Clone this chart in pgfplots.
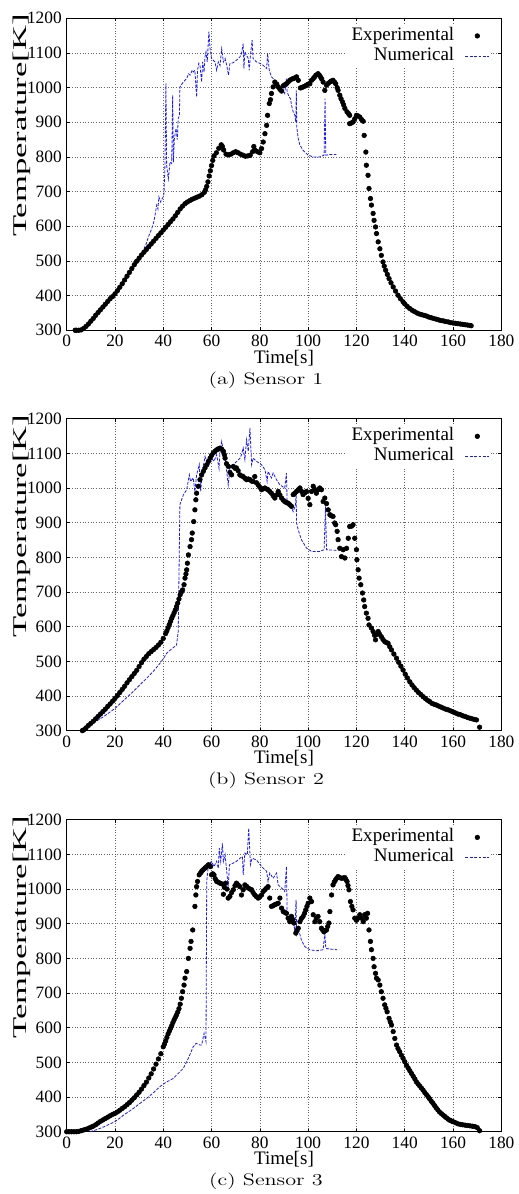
\documentclass[border=0pt]{standalone}
\usepackage{fontspec}
\usepackage{graphicx}
\usepackage{pgfplots}
\pgfplotsset{compat=1.18}
\newfontfamily\tms{Liberation Serif}
\definecolor{numblue}{rgb}{0.1,0.1,1}
\pgfplotsset{
  sensor/.style={
    scale only axis, width=326pt, height=234pt, anchor=south west,
    xmin=0, xmax=180, ymin=300, ymax=1200,
    xtick distance=20, ytick distance=100,
    tick align=inside, xtick pos=both, ytick pos=both,
    major tick length=2.3pt,
    tick style={black, line width=0.5pt},
    axis line style={black, line width=0.8pt},
    grid=major,
    major grid style={black!60, line width=0.5pt, dash pattern=on 0.6pt off 1.4pt},
    /pgf/number format/assume math mode=true,
    /pgf/number format/1000 sep={},
    xticklabel={\pgfmathprintnumber{\tick}},
    yticklabel={\pgfmathprintnumber{\tick}},
    tick label style={font=\tms\fontsize{13}{15}\selectfont},
    xticklabel style={inner ysep=1pt, yshift=-2.5pt},
    yticklabel style={inner sep=3.5pt},
    xlabel={Time[s]},
    xlabel style={font=\tms\fontsize{14.3}{16}\selectfont, at={(axis description cs:0.5,-0.063)}, anchor=north, inner sep=0pt},
    ylabel={\scalebox{1}[0.56]{Temperature[K]}},
    ylabel style={font=\tms\fontsize{26}{28}\selectfont, at={(axis description cs:-0.1035,0.656)}, anchor=center, rotate=0},
    clip=false,
    legend plot pos=right,
    legend cell align=right,
    legend style={at={(axis description cs:0.977,0.9795)}, anchor=north east,
      draw=none, fill=white, inner sep=1pt, row sep=0.5pt, column sep=4pt,
      font=\tms\fontsize{14.3}{16}\selectfont,
      nodes={inner xsep=4pt, inner ysep=0pt, text height=10.5pt, text depth=4pt}},
  },
  exp/.style={only marks, mark=*, mark size=1.75pt, black,
    legend image code/.code={\draw[mark repeat=2,mark phase=2,##1] plot coordinates {(0pt,0pt) (9pt,0pt) (18pt,0pt)};}},
  num/.style={numblue, line width=0.6pt, dash pattern=on 2.2pt off 1.1pt, mark=none,
    legend image code/.code={\draw[##1] (0pt,0pt) -- (18pt,0pt);}},
}
\begin{document}
\begin{tikzpicture}
\path[use as bounding box] (0,0) rectangle (388.5pt,895.5pt);

% ---------------- Sensor 1 ----------------
\begin{axis}[sensor, at={(50pt,647.8pt)},
  extra description/.code={\node[font=\fontsize{12.5}{15}\selectfont] at (0.4585,-0.16) {\scalebox{1.33}[1]{(a) Sensor 1}};}]
\addplot[exp] coordinates {
(3.5,300) (4,300) (5,300) (6,301) (7,305) (8,311) (9,318) (10,326) (11,334) (12,343)
(13,351) (14,359) (15,367) (16,375) (17,383) (18,391) (19,397) (20,405) (21,414) (22,424)
(23,434) (24,445) (25,456) (26,467) (27,478) (28,489) (29,499) (30,508) (31,517) (32,525)
(33,533) (34,541) (35,549) (36,557) (37,565) (38,573) (39,581) (40,589) (41,597) (42,605)
(43,613) (44,621) (45,630) (46,640) (47,650) (48,658) (49,665) (50,670) (51,674) (52,678)
(53,681) (54,684) (55,687) (56,691) (57,698) (57.5,705) (58,715) (58.5,728) (59,745) (59.5,760)
(60,775) (60.5,790) (61,803) (62,812) (63,825) (64,835) (64.5,830) (65,820) (66,808) (67,806)
(68,808) (69,812) (70,815) (71,812) (72,808) (73,805) (74,802) (75,803) (76,805) (77,815)
(77.5,830) (78,820) (79,815) (80,812) (80.7,824) (81.4,843) (82.1,867) (82.8,891) (83.2,920) (83.9,954)
(84.4,965) (84.8,983) (85.5,1002) (86.2,1016) (87,1010) (87.6,1002) (88.3,995) (89,990) (89.7,1005) (90.3,1008)
(91,1011) (91.7,1016) (92.4,1021) (93.1,1024) (93.8,1026) (94.5,1028) (95.2,1031) (95.9,1021) (96.8,999) (97.3,1000)
(97.9,1002) (98.6,1004) (99.3,1007) (100,1010) (100.7,1011) (101.4,1021) (102.1,1026) (102.6,1030) (103.2,1036) (104.1,1040)
(104.6,1036) (105.1,1031) (105.6,1025) (106.2,1016) (106.9,992) (107.6,1007) (108.3,1012) (109,1016) (109.6,1019) (110.3,1021)
(110.9,1016) (111.4,1011) (112,1000) (112.4,992) (113.1,978) (113.6,968) (114.2,959) (114.7,950) (115.2,940) (116.1,930)
(116.7,925) (117.2,920) (117.2,896) (117.9,898) (118.6,901) (119.3,910) (120,920) (120.7,918) (121.4,915) (122.1,908)
(122.8,903) (123.2,862) (123.9,814) (124.1,776) (124.8,747) (125.2,709) (125.8,680) (126.2,661) (126.9,637) (127.3,617)
(127.9,598) (128.3,579) (129,555) (129.7,535) (130.3,516) (131,497) (131.5,485) (132.1,473) (132.8,461) (133.5,449)
(134.3,437) (135.2,425) (136.2,413) (137.2,401) (138.2,391) (139.3,382) (140,376) (141,369) (142,363) (143,358)
(144,354) (145,350) (146,347) (147,345) (148,343) (149,341) (150,338) (151,336) (152,334) (153,332)
(154,330) (155,328) (156,327) (157,325) (158,324) (159,322) (160,321) (161,320) (162,319) (163,318)
(164,317) (165,316) (166,315) (167,314) (167.5,313)
};
\addlegendentry{Experimental}
\addplot[num] coordinates {
(5,300) (6,301) (8,311) (10,327) (12,344) (15,368) (18,392) (20,407) (22,426) (25,458)
(28,492) (30,512) (31,520) (32,535) (33,550) (33.8,569) (34.5,580) (35.2,593) (36,610) (36.6,632)
(37.3,661) (37.8,650) (38.2,685) (38.9,670) (39.4,678) (39.8,682) (40.3,694) (40.7,776) (41.1,1012) (41.4,776)
(42.1,737) (42.8,785) (43.5,781) (43.9,978) (44.2,785) (44.6,853) (45,870) (45.3,882) (45.8,850) (46.2,911)
(46.7,920) (46.9,1002) (48.3,1016) (49.7,1026) (50.5,1040) (51.1,1036) (52,1050) (52.4,1045) (53.1,1050) (53.8,973)
(54.2,1050) (54.7,1070) (55.2,1064) (55.9,1016) (56.3,1074) (56.9,1045) (57.3,1090) (57.7,1103) (58.2,1074) (58.9,1161)
(59.4,1112) (60,1084) (61.4,1074) (62.1,1050) (62.8,1074) (63.5,1064) (64.2,1112) (64.9,1074) (65.6,1084) (66.3,1064)
(67,1036) (67.6,1069) (69,1072) (70.3,1079) (71.7,1088) (72.4,1098) (73.1,1127) (73.4,1055) (73.8,1103) (74.5,1093)
(75.2,1084) (75.6,1050) (76.1,1093) (76.8,1137) (77.2,1084) (78.6,1074) (80,1070) (81.4,1064) (82.8,1055) (83.2,1098)
(83.9,1050) (84.8,1031) (85.5,1026) (86.2,1002) (86.9,1011) (88.3,1002) (89.7,992) (90.3,983) (91,1026) (91.3,988)
(92.1,973) (92.7,968) (93.1,949) (93.8,930) (94.5,920) (94.9,900) (95.1,992) (95.3,885) (95.9,853) (96.6,834)
(97.9,819) (100,805) (102.1,800) (104.8,800) (106.6,805) (107,968) (107.3,805) (109,807) (111.7,807)
};
\addlegendentry{Numerical}
\end{axis}

% ---------------- Sensor 2 ----------------
\begin{axis}[sensor, at={(50pt,347.5pt)},
  extra description/.code={\node[font=\fontsize{12.5}{15}\selectfont] at (0.4585,-0.16) {\scalebox{1.33}[1]{(b) Sensor 2}};}]
\addplot[exp] coordinates {
(6.5,300) (7,302) (8,308) (9,315) (10,321) (11,327) (12,334) (13,341) (14,348) (15,355)
(16,362) (17,370) (18,377) (19,385) (20,393) (21,401) (22,410) (23,419) (24,428) (25,438)
(26,447) (27,456) (28,465) (29,474) (30,485) (31,496) (32,506) (33,514) (34,522) (35,528)
(36,534) (37,540) (38,547) (39,555) (40,566) (41,580) (41.5,588) (42,597) (42.5,606) (43,615)
(43.5,624) (44,632) (44.5,640) (45,648) (45.5,658) (46,668) (46.5,680) (47,692) (47.5,700) (48,706)
(48.6,721) (49,740) (49.4,752) (49.7,764) (50,783) (50.4,807) (51.1,831) (51.7,851) (52,870) (52.6,903)
(53.1,937) (53.5,966) (53.8,985) (54.5,1005) (55.2,1024) (55.9,1038) (56.6,1048) (57.3,1058) (58,1067) (58.7,1077)
(59.4,1086) (60,1094) (60.7,1101) (61.4,1106) (62.1,1110) (62.8,1113) (63.5,1115) (64.2,1112) (64.9,1106) (65.3,1096)
(65.6,1086) (66.2,1070) (67,1062) (67.6,1045) (68.3,1038) (69,1062) (69.7,1057) (70.3,1058) (71,1050) (71.7,1038)
(72.4,1035) (73.1,1033) (73.8,1028) (74.5,1024) (75.2,1026) (75.9,1024) (76.6,1020) (77.2,1019) (77.9,1033) (78.6,1015)
(79.3,1009) (80,1002) (80.7,995) (81.4,998) (82.1,1000) (82.8,997) (83.4,995) (84.1,990) (84.8,985) (85.5,978)
(86.2,971) (86.9,980) (87.6,990) (88.3,980) (89,971) (89.7,965) (90.3,961) (91,958) (91.7,956) (92.4,952)
(93.1,947) (93.8,981) (94.5,985) (95.2,990) (95.9,995) (96.6,1000) (97.3,990) (97.9,981) (98.6,986) (99.3,990)
(100,970) (100.7,952) (101.4,990) (102.1,1005) (102.8,995) (103.4,985) (104.1,995) (104.8,1000) (105.5,995) (106.2,961)
(106.9,971) (107.6,955) (108.3,937) (109,923) (109.6,920) (110.3,918) (111,899) (111.4,894) (112,875) (112.4,851)
(113.1,826) (113.8,802) (114.5,822) (115.2,798) (115.9,826) (116.6,855) (117.2,889) (118,890) (118.6,894) (119.3,855)
(120,822) (120.2,793) (120.7,764) (121.1,740) (121.8,721) (122.5,697) (123,677) (123.4,658) (124.1,639) (124.8,624)
(125.2,605) (126.2,596) (126.9,586) (127.5,575) (127.9,562) (128.5,578) (129,586) (129.6,578) (130.3,571) (131,563)
(131.7,557) (132.4,554) (133.1,552) (133.8,542) (134.5,533) (135.5,521) (136.6,509) (137.5,497) (138.4,486) (139.3,475)
(140.2,463) (141.1,452) (142.1,441) (143,432) (143.9,424) (144.8,417) (145.7,410) (146.7,404) (147.6,398) (148.5,393)
(149.4,388) (150.3,384) (151.2,379) (152.2,376) (153.1,374) (154,371) (155,368) (156,365) (157,362) (158,360)
(159,357) (160,354) (161,351) (162,348) (163,346) (164,343) (165,341) (166,338) (167,336) (168,334)
(169,332) (169.7,331) (171,310)
};
\addlegendentry{Experimental}
\addplot[num] coordinates {
(6.5,300) (10,318) (15.2,340) (20,364) (24,390) (27.6,413) (30,430) (33.1,451) (36,472) (38.6,494)
(40,507) (41.4,523) (43,533) (45.5,547) (46.2,586) (46.9,952) (48.3,980) (49.7,995) (50.8,1038) (51.3,1019)
(52.4,1029) (53.1,990) (53.8,1038) (54.9,1067) (55.5,990) (56.2,1048) (57.3,1091) (58,1077) (58.9,1067) (60,1086)
(61,1077) (62.1,1096) (63.1,1057) (63.5,1106) (64.2,1134) (64.9,1106) (65.8,1077) (66.9,1009) (67.6,1057) (69.7,1072)
(71.8,1086) (72.4,1096) (73.1,1115) (73.8,1082) (74.5,1139) (75.2,1106) (75.9,1173) (76.6,1067) (77.2,1086) (78.6,1077)
(80.7,1067) (82.1,1053) (83,1019) (83.4,1048) (84.8,1029) (85.5,1043) (86.9,1024) (88.3,1009) (90.3,1000) (91,1043)
(91.3,961) (92.4,952) (93.8,932) (94.8,952) (95,995) (95.2,899) (95.9,879) (97.2,851) (99.3,827) (101.4,817)
(104.8,817) (106.6,822) (107.2,947) (107.6,822) (111.7,820)
};
\addlegendentry{Numerical}
\end{axis}

% ---------------- Sensor 3 ----------------
\begin{axis}[sensor, at={(50pt,46.7pt)},
  extra description/.code={\node[font=\fontsize{12.5}{15}\selectfont] at (0.4585,-0.16) {\scalebox{1.33}[1]{(c) Sensor 3}};}]
\addplot[exp] coordinates {
(0,300) (1,300) (2,300) (3,300) (4,300) (5,301) (6,303) (7,305) (8,307) (9,310)
(10,313) (11,316) (12,320) (13,325) (14,330) (15,334) (16,338) (17,342) (18,346) (19,350)
(20,353) (21,357) (22,362) (23,367) (24,372) (25,378) (26,384) (27,391) (28,398) (29,406)
(30,414) (31,423) (32,433) (33,443) (34,455) (35,467) (36,481) (37,495) (38,510) (39,525)
(40,545) (40.5,553) (41,562) (41.5,572) (42,582) (42.5,590) (43,598) (43.5,606) (44,615) (44.5,623)
(45,630) (45.5,637) (46,645) (46.5,655) (47,668) (47.5,685) (48,704) (48.6,723) (49,743) (49.7,762)
(50.4,800) (51.1,829) (51.5,849) (52.2,882) (53.1,950) (53.5,983) (53.8,1007) (54.2,1022) (54.9,1041) (55.5,1047)
(55.9,1051) (56.4,1055) (56.9,1058) (57.5,1062) (58,1065) (58.7,1070) (59.2,1068) (59.6,1065) (60,1041) (60.5,1044)
(61,1041) (61.5,1030) (62.1,1022) (62.8,1020) (63.5,1017) (64.2,1015) (64.9,985) (65.3,1005) (65.8,1017) (66.4,1000)
(66.9,974) (67.6,979) (68.3,990) (69,998) (69.7,1010) (70.3,1017) (71,1012) (71.7,1007) (72.4,983) (73.1,998)
(73.8,1012) (74.5,1008) (75.2,1003) (75.9,1000) (76.6,998) (77.2,990) (77.9,983) (78.6,978) (79.3,974) (80,978)
(80.7,983) (81.4,993) (82.1,998) (82.8,1003) (83.4,1007) (84.1,974) (84.8,950) (85.5,952) (86.2,955) (86.9,957)
(87.6,959) (88.3,974) (89,945) (89.7,935) (90.3,933) (91,930) (91.7,916) (92.4,906) (93.1,921) (93.6,912)
(94.1,902) (94.9,873) (95.3,880) (95.9,887) (96.6,906) (97.2,915) (97.9,921) (98.5,930) (99,940) (99.5,950)
(100,959) (100.7,974) (101.4,964) (102.1,926) (102.8,906) (103.4,916) (104.1,921) (104.8,906) (105.5,887) (106,882)
(106.5,877) (107.1,880) (107.6,882) (108.1,892) (108.6,902) (109,935) (109.7,983) (110.3,1012) (110.8,1020) (111.4,1027)
(111.9,1032) (112.4,1036) (113.1,1033) (113.8,1031) (114.5,1032) (115.2,1033) (115.6,1028) (116.1,1022) (116.5,1010) (116.9,998)
(117.5,964) (118.1,950) (118.6,940) (119.3,916) (120,910) (120.7,916) (121.4,926) (122.1,916) (122.8,906) (123.4,926)
(124.1,916) (124.6,930) (125.2,882) (125.8,849) (126.2,825) (126.9,800) (127.3,776) (127.9,757) (128.3,743) (129,738)
(129.7,723) (130.3,704) (131,685) (131.7,666) (132.2,656) (132.7,646) (133.5,627) (134,617) (134.5,608) (135.2,589)
(135.9,569) (136.6,550) (137.2,540) (137.9,531) (138.6,521) (139.3,512) (140,502) (140.7,492) (141.4,484) (142.1,476)
(142.8,468) (143.5,460) (144.2,452) (144.8,444) (145.5,438) (146.2,432) (146.9,426) (147.6,420) (148.3,413) (149,407)
(149.7,401) (150.3,395) (151,388) (151.7,382) (152.4,375) (153,369) (153.7,363) (154.4,357) (155.2,352) (155.9,348)
(156.6,344) (157.3,340) (158,336) (158.7,333) (159.4,331) (160,329) (161,326) (162,323) (163,321) (164,320)
(165,319) (166,318) (167,317) (168,316) (169,315) (170,312) (171,303)
};
\addlegendentry{Experimental}
\addplot[num] coordinates {
(9.7,300) (12,305) (15,313) (20,329) (24,350) (27.6,367) (30,380) (33.1,396) (36,413) (38.6,430)
(41,442) (44.2,454) (46,467) (48.3,483) (50.4,512) (52.4,545) (53.6,555) (55.2,550) (55.9,550) (56.9,584)
(57.7,560) (58,1022) (58.7,1070) (60,1080) (61,1065) (62.1,1080) (62.8,1060) (63.2,1118) (63.8,1080) (64.5,1132)
(64.9,1080) (65.6,1099) (66.9,1007) (67.4,1070) (69,1075) (70.3,1080) (71.8,1089) (72.8,1094) (73.1,1041) (73.8,1104)
(74.8,1099) (75.4,1176) (76.1,1070) (76.8,1089) (78.6,1084) (80.7,1065) (82.8,1051) (83.4,1022) (84.1,1046) (85.5,1031)
(86.9,1046) (87.6,1012) (89,1003) (90.3,993) (91,1065) (91.3,935) (92.4,926) (93.8,902) (94.5,882) (95,969)
(95.2,870) (95.9,887) (97.2,853) (98.6,834) (100.7,825) (103.4,822) (106.2,825) (106.9,873) (107.3,829) (109,827)
(112,825)
};
\addlegendentry{Numerical}
\end{axis}
\end{tikzpicture}
\end{document}
